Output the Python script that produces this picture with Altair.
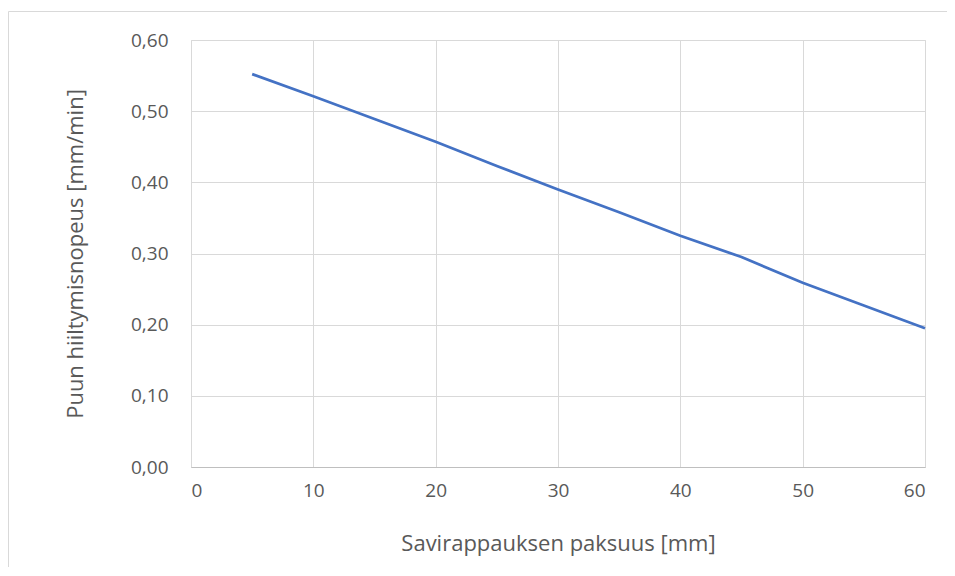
import altair as alt
import pandas as pd

thickness = [5, 10, 15, 20, 25, 30, 35, 40, 45, 50, 55, 60]
rate = [0.552, 0.521, 0.489, 0.457, 0.423, 0.390, 0.358, 0.325, 0.295, 0.259, 0.227, 0.195]

df = pd.DataFrame({"x": thickness, "y": rate})

W, H = 734, 427
FONT = "Open Sans"
TXT = "#595959"

border = alt.Chart(pd.DataFrame({"a": [0]})).mark_rect(
    fill=None, stroke="#d9d9d9", strokeWidth=1
).encode(
    x=alt.value(-182.5), x2=alt.value(W + 60),
    y=alt.value(-28.5), y2=alt.value(H + 150),
)

line = alt.Chart(df).mark_line(color="#4472C4", strokeWidth=2.75).encode(
    x=alt.X("x:Q",
            scale=alt.Scale(domain=[0, 60], nice=False, zero=False),
            axis=alt.Axis(values=[0, 10, 20, 30, 40, 50, 60],
                          title="Savirappauksen paksuus [mm]",
                          grid=True, gridColor="#d9d9d9", gridWidth=1,
                          domain=True, domainColor="#bfbfbf", domainWidth=1,
                          ticks=False, labelPadding=14,
                          labelFont=FONT, labelFontSize=19, labelColor=TXT,
                          titleFont=FONT, titleFontSize=22, titleColor=TXT,
                          titleFontWeight="normal",
                          titleX=W / 2, titleY=76, titleBaseline="middle",
                          titleAlign="center")),
    y=alt.Y("y:Q",
            scale=alt.Scale(domain=[0, 0.6], nice=False),
            axis=alt.Axis(values=[0, 0.1, 0.2, 0.3, 0.4, 0.5, 0.6],
                          labelExpr="replace(format(datum.value, '.2f'), '.', ',')",
                          title="Puun hiiltymisnopeus [mm/min]",
                          grid=True, gridColor="#d9d9d9", gridWidth=1,
                          domain=False, ticks=False, labelPadding=23,
                          labelFont=FONT, labelFontSize=19, labelColor=TXT,
                          titleFont=FONT, titleFontSize=22, titleColor=TXT,
                          titleFontWeight="normal",
                          titleX=-116, titleY=H / 2, titleAngle=-90,
                          titleBaseline="middle", titleAlign="center")),
)

chart = alt.layer(border, line).properties(
    width=W, height=H,
    autosize=alt.AutoSizeParams(type="none"),
    padding={"left": 183, "top": 32, "right": 22, "bottom": 100},
).configure_view(stroke=None).configure(background="white")

chart.save("out.html", embed_options={"renderer": "svg", "actions": False})
